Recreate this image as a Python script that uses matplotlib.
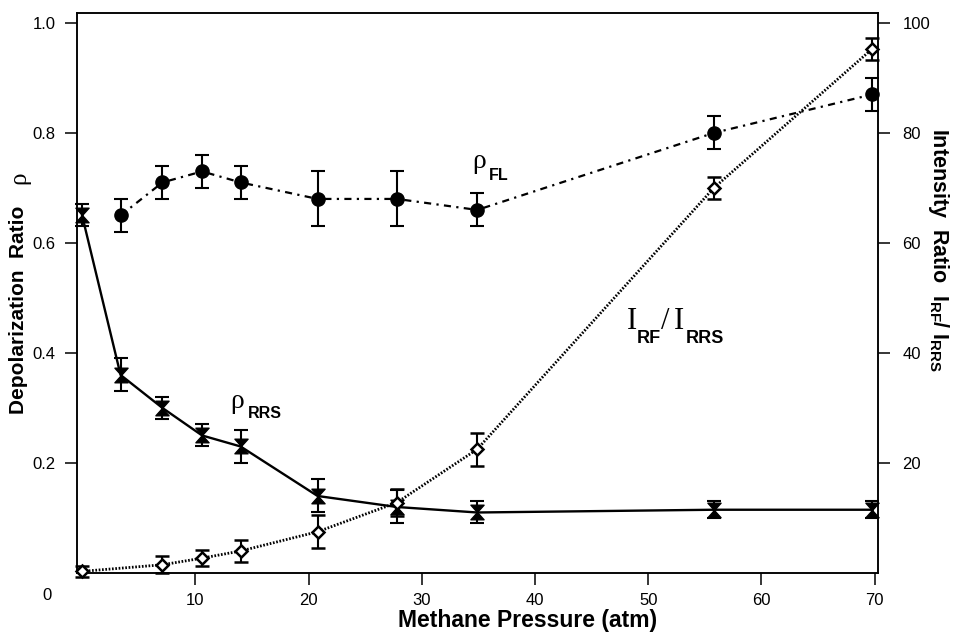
import matplotlib
matplotlib.use("Agg")
import matplotlib.pyplot as plt
from matplotlib.path import Path

plt.rcParams['font.family'] = ['Liberation Sans', 'DejaVu Sans']
plt.rcParams['mathtext.fontset'] = 'custom'
plt.rcParams['mathtext.it'] = 'Liberation Serif'
plt.rcParams['mathtext.rm'] = 'Liberation Serif'
plt.rcParams['mathtext.bf'] = 'Liberation Sans:bold'

# values (methane pressure in atm)
p_rrs = [0.0, 3.4, 7.1, 10.6, 14.0, 20.8, 27.8, 34.9, 55.8, 69.8]
rho_rrs = [0.65, 0.36, 0.30, 0.25, 0.23, 0.14, 0.12, 0.11, 0.115, 0.115]
rho_rrs_err = [0.02, 0.03, 0.02, 0.02, 0.03, 0.03, 0.03, 0.02, 0.015, 0.015]

p_fl = [3.4, 7.1, 10.6, 14.0, 20.8, 27.8, 34.9, 55.8, 69.8]
rho_fl = [0.65, 0.71, 0.73, 0.71, 0.68, 0.68, 0.66, 0.80, 0.87]
rho_fl_err = [0.03, 0.03, 0.03, 0.03, 0.05, 0.05, 0.03, 0.03, 0.03]

p_int = [0.0, 7.1, 10.6, 14.0, 20.8, 27.8, 34.9, 55.8, 69.8]
i_ratio = [0.3, 1.5, 2.7, 4.0, 7.5, 12.8, 22.5, 70.0, 95.3]
i_ratio_err = [1.0, 1.5, 1.5, 2.0, 3.0, 2.5, 3.0, 2.0, 2.0]

x_ticks = [10, 20, 30, 40, 50, 60, 70]
left_ticks = [0.2, 0.4, 0.6, 0.8, 1.0]
right_ticks = [20, 40, 60, 80, 100]

# hourglass marker used for rho_RRS
hourglass = Path([(-0.9, 1), (0.9, 1), (-0.9, -1), (0.9, -1), (-0.9, 1)],
                 [Path.MOVETO, Path.LINETO, Path.LINETO, Path.LINETO, Path.CLOSEPOLY])

fig = plt.figure(figsize=(9.57, 6.36), dpi=100)
ax = fig.add_axes([77/957, 1-573/636, (878-77)/957, (573-13)/636])
ax2 = ax.twinx()

ax.set_xlim(-0.45, 70.3)
ax.set_ylim(0, 1.018)
ax2.set_ylim(0, 101.8)

eb = dict(ecolor='k', elinewidth=1.5, capsize=4.7, capthick=1.5, clip_on=False)

ax.errorbar(p_rrs, rho_rrs, yerr=rho_rrs_err, color='k', lw=1.7, ls='-',
            marker=hourglass, ms=10.5, mfc='k', mec='k', zorder=4, **eb)
ax.errorbar(p_fl, rho_fl, yerr=rho_fl_err, color='k', lw=1.6, ls=(0, (3.2, 2.4, 1, 2.4)),
            marker='o', ms=9.5, mfc='k', mec='k', zorder=4, **eb)
ax2.errorbar(p_int, i_ratio, yerr=i_ratio_err, color='k', lw=2.0, ls=(0, (0.6, 0.6)),
             marker='D', ms=6.5, mfc='white', mec='k', mew=1.8, zorder=3, **eb)

for a in (ax, ax2):
    for s in a.spines.values():
        s.set_linewidth(1.1)

ax.set_xticks(x_ticks)
ax.set_xticklabels([str(t) for t in x_ticks])
ax.set_yticks(left_ticks)
ax.set_yticklabels(['0.2', '0.4', '0.6', '0.8', '1.0'])
ax2.set_yticks(right_ticks)
ax2.set_yticklabels([str(t) for t in right_ticks])

ax.tick_params(axis='both', direction='out', length=8.6, width=1.1, labelsize=12)
ax.tick_params(axis='y', pad=7)
ax.tick_params(axis='x', pad=6)
ax2.tick_params(axis='y', direction='out', length=8.6, width=1.1, labelsize=12, pad=9)

# in-plot labels
def piece(a, x, y, txt, dx, dy, **kw):
    a.annotate(txt, xy=(x, y), xycoords='data', xytext=(dx*0.72, dy*0.72),
               textcoords='offset points', ha='left', va='baseline', **kw)

serif = dict(family='Liberation Serif')
bold = dict(family='Liberation Sans', weight='bold')

piece(ax, 34.5, 0.736, 'ρ', 0, 0, fontsize=20, **serif)
piece(ax, 34.5, 0.736, 'FL', 16, -12, fontsize=11.5, **bold)

piece(ax, 13.06, 0.30, 'ρ', 0, 0, fontsize=20, **serif)
piece(ax, 13.06, 0.30, 'RRS', 18, -10, fontsize=11.5, **bold)

piece(ax, 48.1, 0.444, 'I', 0, 0, fontsize=22, **serif)
piece(ax, 48.1, 0.444, 'RF', 10, -14, fontsize=13, **bold)
piece(ax, 48.1, 0.444, '/', 34, 0, fontsize=22, **serif)
piece(ax, 48.1, 0.444, 'I', 47, 0, fontsize=22, **serif)
piece(ax, 48.1, 0.444, 'RRS', 59, -14, fontsize=13, **bold)

# shared origin label and axis titles
fig.text(47/957, 1-595/636, '0', ha='center', va='center', fontsize=12)
fig.text(528/957, 1-621/636, 'Methane Pressure (atm)', ha='center', va='center',
         fontsize=16.5, weight='bold')
fig.text(19/957, 1-310/636, 'Depolarization  Ratio', ha='center', va='center',
         rotation=90, fontsize=15, weight='bold')
fig.text(19/957, 1-178/636, 'ρ', ha='center', va='center',
         rotation=90, fontsize=18, family='Liberation Serif')
fig.text(938/957, 1-250/636, r'Intensity  Ratio  $\mathbf{I}_{\mathbf{RF}}\mathbf{/\ I}_{\mathbf{RRS}}$',
         ha='center', va='center', rotation=-90, fontsize=15.5, weight='bold')

fig.savefig('out.png', dpi=100)
